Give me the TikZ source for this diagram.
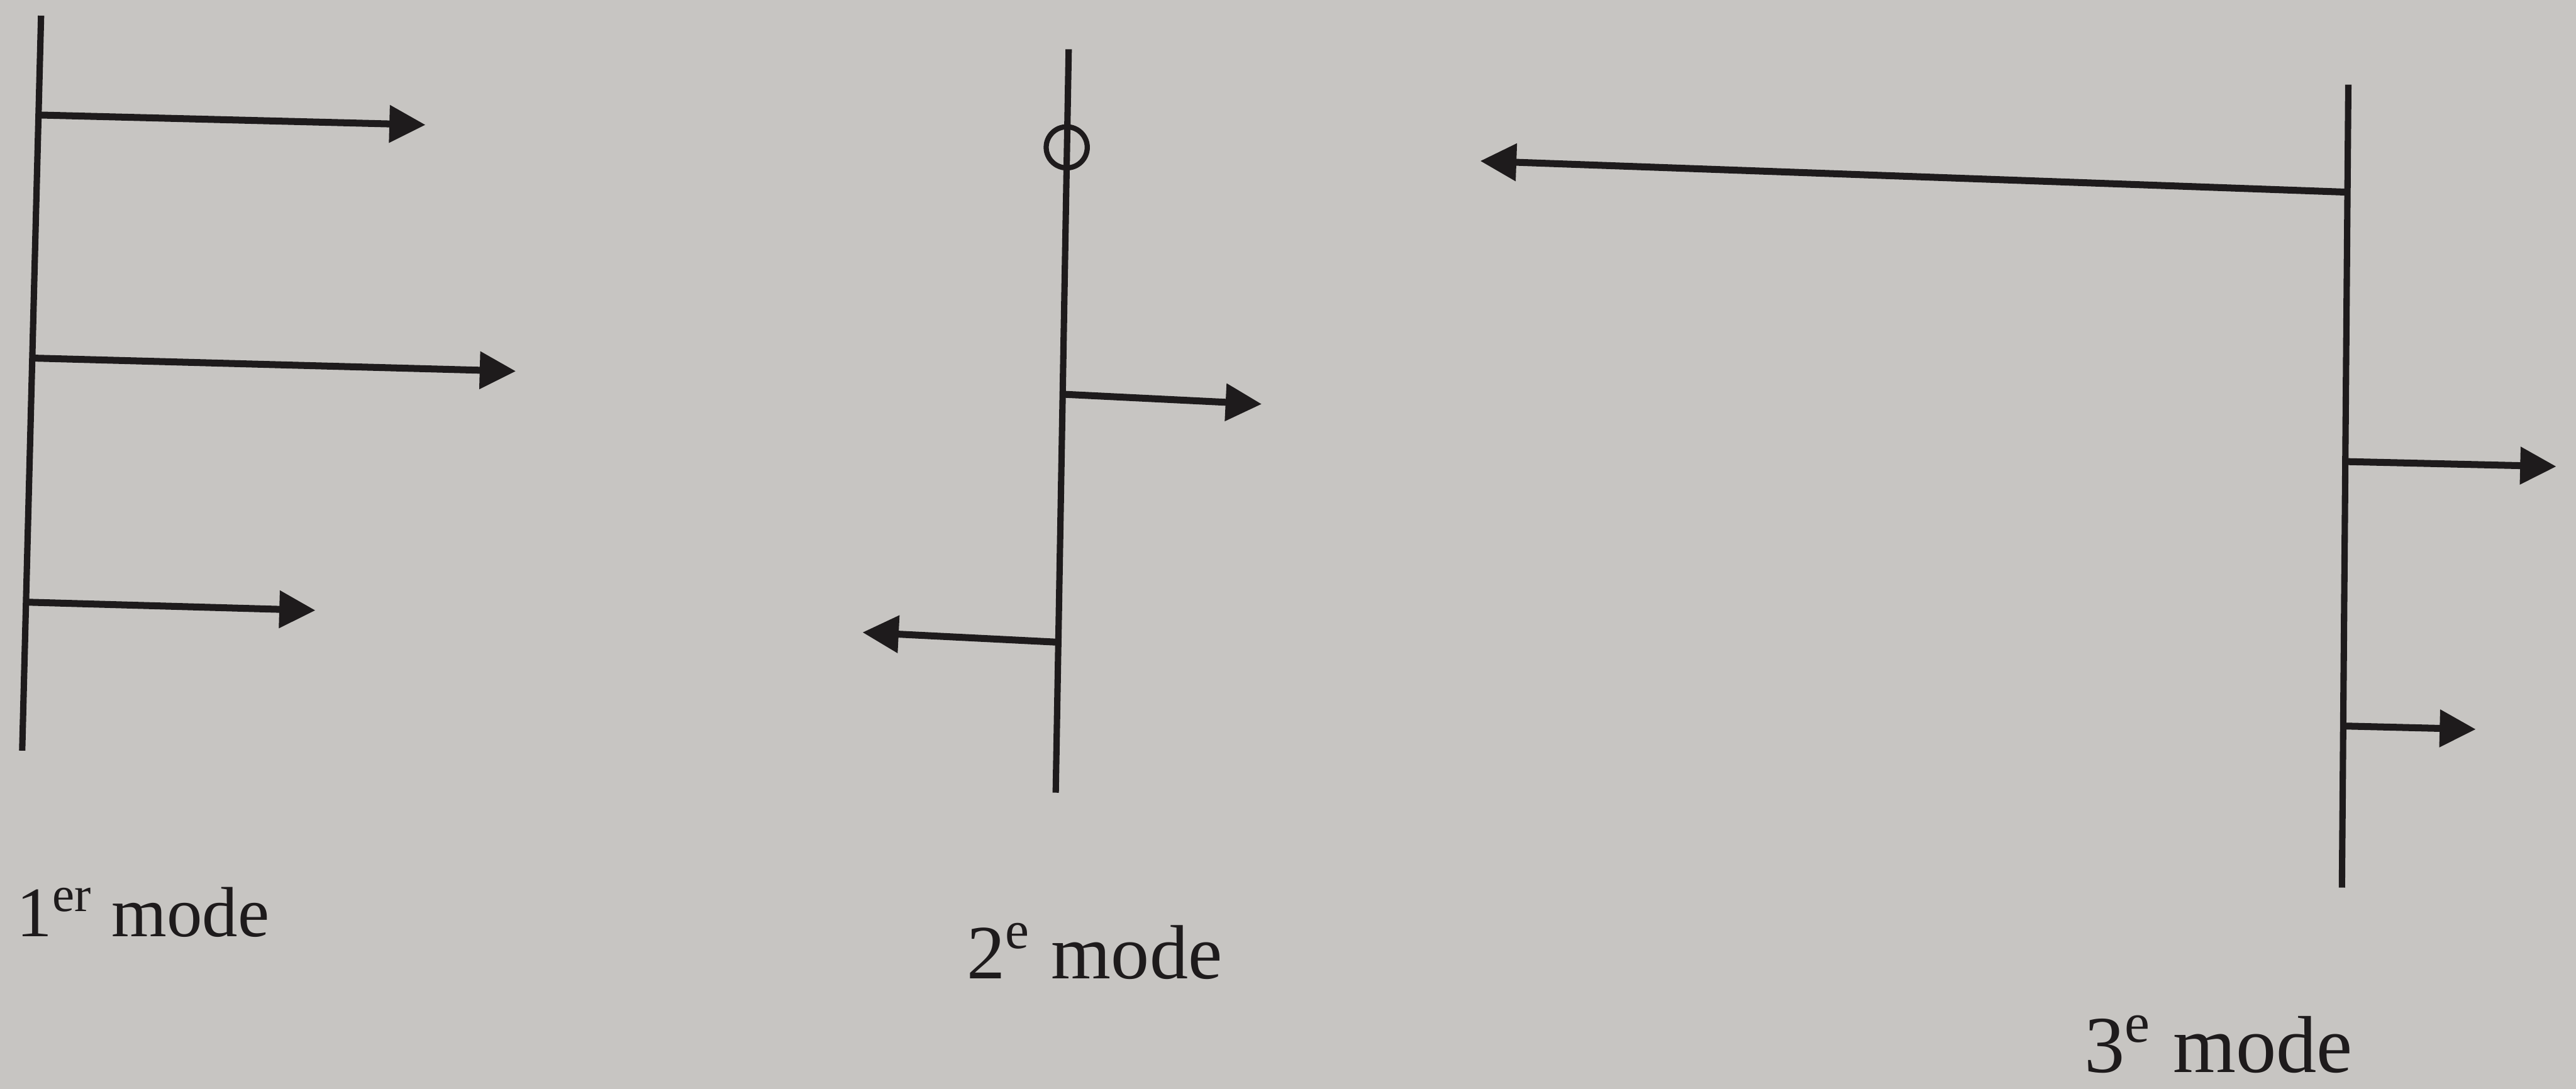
\documentclass[tikz,border=0pt]{standalone}
\usepackage{fontspec}
\setmainfont{Liberation Serif}
\usetikzlibrary{arrows.meta}

\definecolor{paper}{RGB}{199,197,194}
\definecolor{ink}{RGB}{30,27,28}

\begin{document}
\begin{tikzpicture}[
    beam/.style={draw=ink, line width=1.1pt},
    arr/.style={draw=ink, line width=1.2pt, -{Triangle[length=2.2mm, width=2.2mm]}},
    hinge/.style={draw=ink, line width=0.9pt, circle, minimum size=2.5mm, inner sep=0pt},
    lbl/.style={text=ink, inner sep=0pt, anchor=base west, font=\fontsize{#1}{#1}\selectfont},
]

% page
\fill[paper] (0,0) rectangle (15.68,-6.63);

% 1er mode
\coordinate (m1top) at ( 0.250, -0.095);
\coordinate (m1bot) at ( 0.135, -4.570);
\coordinate (m1a)   at ( 0.235, -0.700);
\coordinate (m1b)   at ( 0.197, -2.180);
\coordinate (m1c)   at ( 0.159, -3.666);
\coordinate (m1ta)  at ( 2.590, -0.760);
\coordinate (m1tb)  at ( 3.140, -2.260);
\coordinate (m1tc)  at ( 1.920, -3.716);

\draw[beam] (m1top) -- (m1bot);
\draw[arr]  (m1a) -- (m1ta);
\draw[arr]  (m1b) -- (m1tb);
\draw[arr]  (m1c) -- (m1tc);

\node[lbl=12.3] (lbl1) at (0.095, -5.70) {1\textsuperscript{er} mode};

% 2e mode
\coordinate (m2top) at ( 6.505, -0.300);
\coordinate (m2bot) at ( 6.426, -4.826);
\coordinate (m2a)   at ( 6.468, -2.400);
\coordinate (m2b)   at ( 6.442, -3.910);
\coordinate (m2ta)  at ( 7.680, -2.460);
\coordinate (m2tb)  at ( 5.250, -3.850);

\draw[beam] (m2top) -- (m2bot);
\node[hinge] (pivot) at (6.493, -0.897) {};
\draw[arr]  (m2a) -- (m2ta);
\draw[arr]  (m2b) -- (m2tb);

\node[lbl=13.3] (lbl2) at (5.88, -5.96) {2\textsuperscript{e} mode};

% 3e mode
\coordinate (m3top) at (14.294, -0.515);
\coordinate (m3bot) at (14.255, -5.404);
\coordinate (m3a)   at (14.289, -1.170);
\coordinate (m3b)   at (14.276, -2.810);
\coordinate (m3c)   at (14.263, -4.420);
\coordinate (m3ta)  at ( 9.010, -0.980);
\coordinate (m3tb)  at (15.560, -2.840);
\coordinate (m3tc)  at (15.070, -4.440);

\draw[beam] (m3top) -- (m3bot);
\draw[arr]  (m3a) -- (m3ta);
\draw[arr]  (m3b) -- (m3tb);
\draw[arr]  (m3c) -- (m3tc);

\node[lbl=14] (lbl3) at (12.68, -6.53) {3\textsuperscript{e} mode};

\end{tikzpicture}
\end{document}
